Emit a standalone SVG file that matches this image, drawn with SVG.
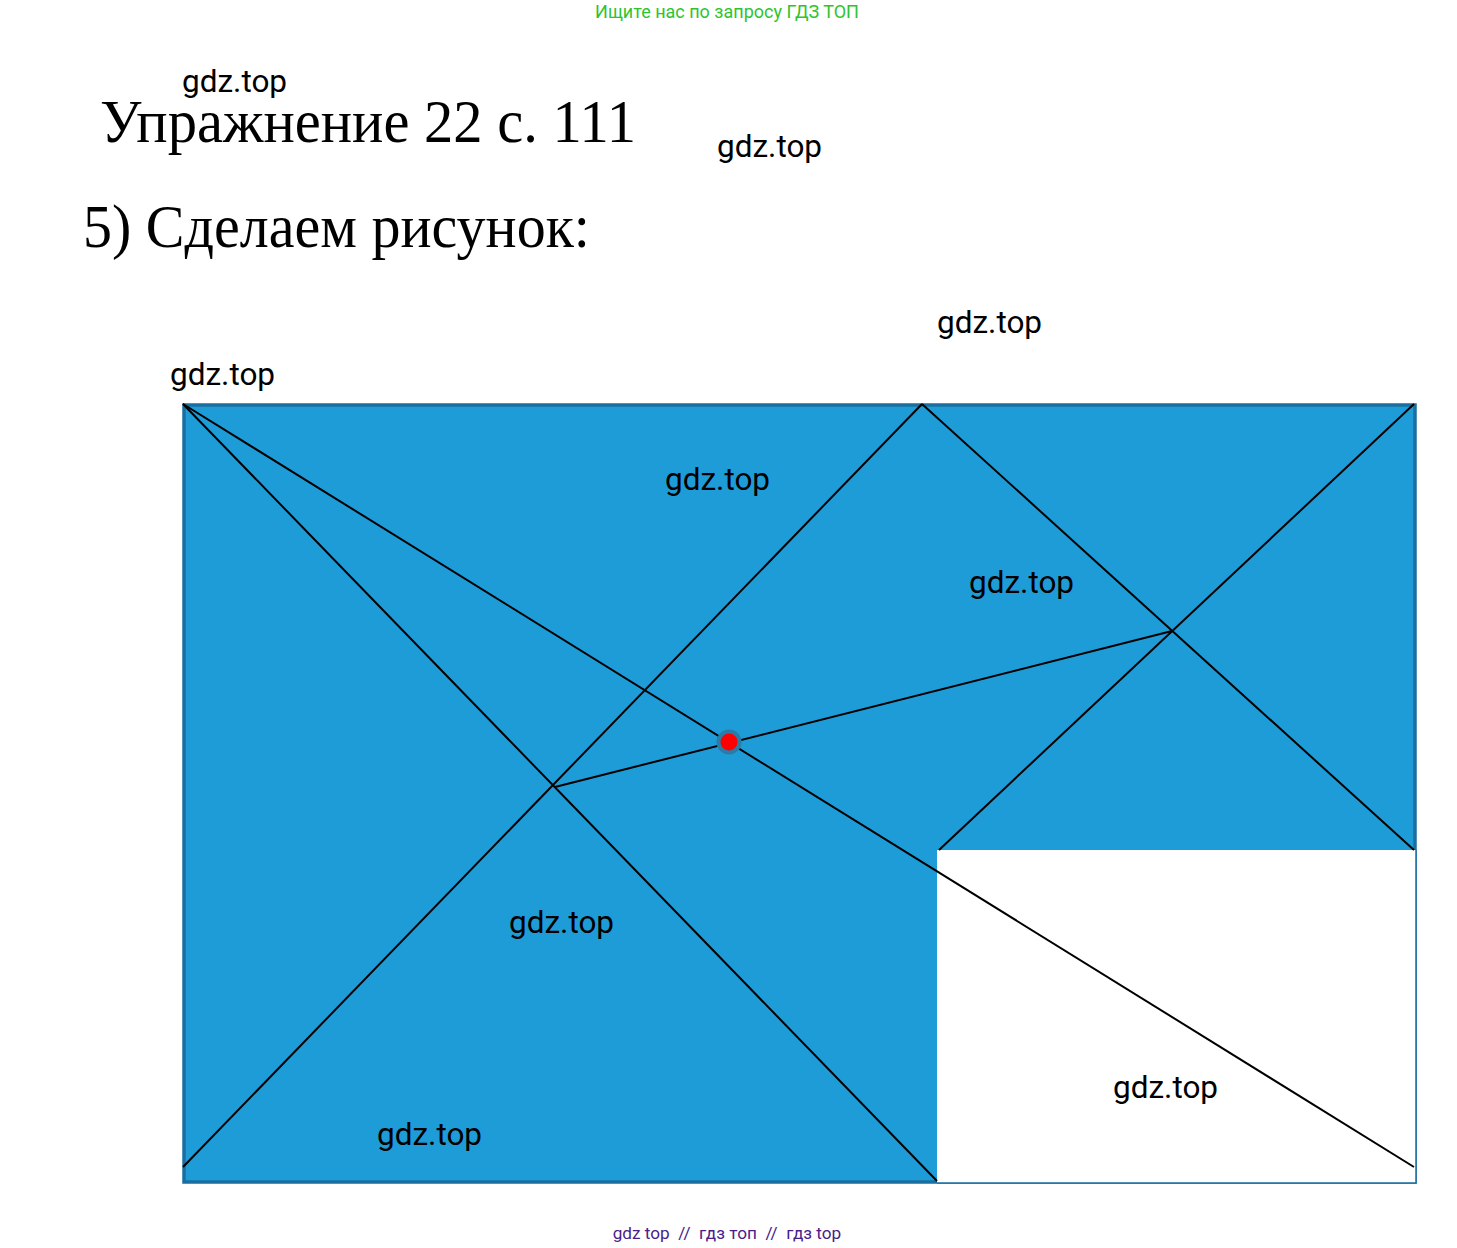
<svg xmlns="http://www.w3.org/2000/svg" width="1457" height="1248" viewBox="0 0 1457 1248">
<style>
.wm{font-family:Roboto,"Liberation Sans",sans-serif;font-size:31.5px;fill:#000}
.ttl{font-family:"Liberation Serif",serif;fill:#000}
.ln{stroke:#000;stroke-width:2;fill:none}
</style>
<rect width="1457" height="1248" fill="#fff"/>
<text x="727" y="18" text-anchor="middle" font-family="Roboto,'Liberation Sans',sans-serif" font-size="18" fill="#2ec42e">Ищите нас по запросу ГДЗ ТОП</text>
<text class="ttl" x="100" y="142" font-size="62" textLength="536" lengthAdjust="spacingAndGlyphs">Упражнение 22 с. 111</text>
<text class="ttl" x="83" y="247" font-size="62" textLength="507" lengthAdjust="spacingAndGlyphs">5) Сделаем рисунок:</text>
<g id="figure">
<rect x="184" y="405" width="1231" height="777" fill="#1e9cd8" stroke="#1b6fa0" stroke-width="3.5"/>
<rect x="937" y="850" width="479" height="333" fill="#fff"/>
<path d="M1416 850V1183H937" fill="none" stroke="#1b6fa0" stroke-width="1.5"/>
</g>
<g id="connectors">
<line class="ln" x1="183" y1="404" x2="1414" y2="1167"/>
<line class="ln" x1="183" y1="404" x2="937" y2="1181"/>
<line class="ln" x1="183" y1="1167" x2="922" y2="404"/>
<line class="ln" x1="922" y1="404" x2="1414" y2="850"/>
<line class="ln" x1="1414" y1="404" x2="939" y2="850"/>
<line class="ln" x1="555" y1="787" x2="1172" y2="631"/>
</g>
<g id="point">
<circle cx="729" cy="742" r="12.5" fill="#2a7ba5"/>
<circle cx="729" cy="742" r="8.5" fill="#f00"/>
</g>
<g id="watermarks">
<text class="wm" x="182" y="92">gdz.top</text>
<text class="wm" x="717" y="157">gdz.top</text>
<text class="wm" x="937" y="333">gdz.top</text>
<text class="wm" x="170" y="385">gdz.top</text>
<text class="wm" x="665" y="490">gdz.top</text>
<text class="wm" x="969" y="593">gdz.top</text>
<text class="wm" x="509" y="933">gdz.top</text>
<text class="wm" x="377" y="1145">gdz.top</text>
<text class="wm" x="1113" y="1098">gdz.top</text>
</g>
<text x="727" y="1239" text-anchor="middle" font-family="Roboto,'Liberation Sans',sans-serif" font-size="17.2" fill="#4a1d8a" xml:space="preserve">gdz top  //  гдз топ  //  гдз top</text>
</svg>
